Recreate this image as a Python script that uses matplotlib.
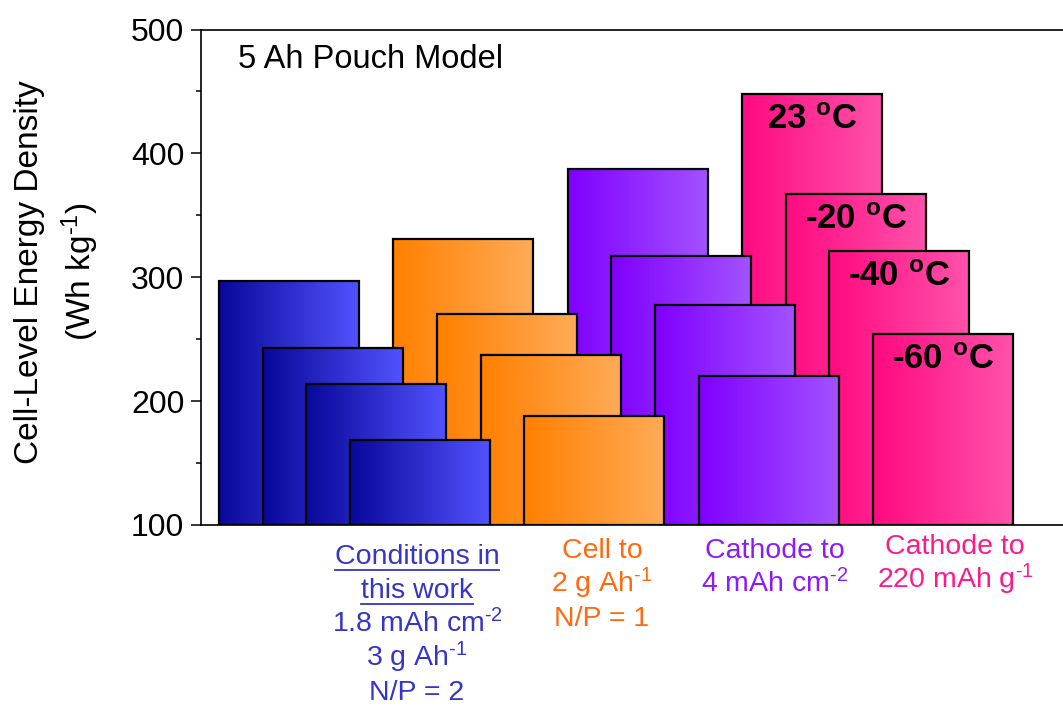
import matplotlib
matplotlib.use('Agg')
import matplotlib.pyplot as plt
import matplotlib.transforms as mtransforms
from matplotlib.colors import to_rgb
from matplotlib.lines import Line2D
from matplotlib.ticker import MultipleLocator
import numpy as np

plt.rcParams['font.family'] = ['Liberation Sans', 'DejaVu Sans']
plt.rcParams['mathtext.fontset'] = 'custom'
plt.rcParams['mathtext.rm'] = 'Liberation Sans'
plt.rcParams['mathtext.it'] = 'Liberation Sans:italic'
plt.rcParams['mathtext.bf'] = 'Liberation Sans:bold'

HY = '\u2010'  # short hyphen for exponents

# cell-level energy density (Wh/kg) at 23, -20, -40, -60 C for each scenario
temps = ['23', '-20', '-40', '-60']
this_work = [297, 243, 214, 169]
cell_2gah = [331, 270, 237, 188]
cathode_4mah = [387, 317, 278, 220]
cathode_220 = [448, 367, 321, 254]

group_labels = [
    ['Conditions in', 'this work', '1.8 mAh cm$^{%s2}$' % HY, '3 g Ah$^{%s1}$' % HY, 'N/P = 2'],
    ['Cell to', '2 g Ah$^{%s1}$' % HY, 'N/P = 1'],
    ['Cathode to', '4 mAh cm$^{%s2}$' % HY],
    ['Cathode to', '220 mAh g$^{%s1}$' % HY],
]

# (left colour, right colour, text colour) for each group
palette = [
    ('#08089a', '#5252ff', '#3535c8'),
    ('#ff8000', '#ffab58', '#ff6a10'),
    ('#8000ff', '#a352ff', '#8c1aff'),
    ('#ff0a80', '#ff52aa', '#ff1a8c'),
]

series = [this_work, cell_2gah, cathode_4mah, cathode_220]

W, H = 1063, 707
fig = plt.figure(figsize=(W / 100, H / 100), dpi=100)
ax = fig.add_axes([201 / W, (H - 525) / H, 1 - 201 / W, (525 - 29.5) / H])

BASE = 100
bar_w = 3.21

all_vals = [v for s in series for v in s]
ranks = {v: r for r, v in enumerate(sorted(all_vals, reverse=True))}

t = np.linspace(0, 1, 256)[:, None]
bar_rects = []
for g, vals in enumerate(series):
    x = 4 * g + np.arange(len(vals))
    c0, c1 = np.array(to_rgb(palette[g][0])), np.array(to_rgb(palette[g][1]))
    grad = (c0 * (1 - t) + c1 * t)[None, :, :]
    bars = ax.bar(x, np.array(vals) - BASE, bottom=BASE, width=bar_w, align='edge',
                  facecolor='none', edgecolor='black', linewidth=1.6)
    for rect, v in zip(bars, vals):
        # lower bars sit in front of taller ones
        z = 2 + ranks[v] * 0.1
        x0 = rect.get_x()
        ax.imshow(grad, extent=[x0, x0 + rect.get_width(), BASE, BASE + rect.get_height()],
                  aspect='auto', interpolation='bilinear', zorder=z)
        rect.set_zorder(z + 0.05)
    bar_rects.append(bars)

# temperature tags on the last group
for rect, tmp in zip(bar_rects[3], temps):
    ax.annotate(tmp + r' $^{\mathbf{o}}$C',
                xy=(rect.get_x() + rect.get_width() / 2, rect.get_y() + rect.get_height()),
                xytext=(0, -25), textcoords='offset points', ha='center', va='baseline',
                fontsize=25, fontweight='bold', zorder=10)

ax.set_xlim(-18 / 43.6, (W - 219) / 43.6)
ax.set_ylim(100, 500)
ax.set_xticks([])
ax.yaxis.set_major_locator(MultipleLocator(100))
ax.yaxis.set_minor_locator(MultipleLocator(50))
ax.tick_params(axis='y', which='major', length=7, width=1.1, direction='out', labelsize=23, pad=5)
ax.tick_params(axis='y', which='minor', length=3.5, width=1.1, direction='out')
ax.spines['right'].set_visible(False)
for s in ['left', 'top', 'bottom']:
    ax.spines[s].set_linewidth(1.2)

fig.text(238 / W, 1 - 68 / H, '5 Ah Pouch Model', fontsize=23.5, ha='left', va='baseline')

fig.text(30 / W, 1 - 272 / H, 'Cell-Level Energy Density', rotation=90,
         fontsize=24, ha='center', va='center')
fig.text(80 / W, 1 - 272 / H, '(Wh kg$^{%s1}$)' % HY, rotation=90,
         fontsize=24, ha='center', va='center')

# scenario captions under the axis
trans = mtransforms.blended_transform_factory(ax.transData, fig.transFigure)
label_x = [(417 - 219) / 43.6, (602 - 219) / 43.6, (775 - 219) / 43.6, (955 - 219) / 43.6]
first_base = [564, 558, 558, 554]
underlined = []
for g, lines in enumerate(group_labels):
    for k, line in enumerate(lines):
        txt = ax.text(label_x[g], 1 - (first_base[g] + 34 * k) / H, line, transform=trans,
                      ha='center', va='baseline', fontsize=20.5, color=palette[g][2],
                      clip_on=False)
        if g == 0 and k < 2:
            underlined.append(txt)

fig.canvas.draw()
renderer = fig.canvas.get_renderer()
for txt in underlined:
    bb = txt.get_window_extent(renderer)
    base_y = txt.get_transform().transform(txt.get_position())[1]
    y = (base_y - 6) / H
    fig.add_artist(Line2D([bb.x0 / W, bb.x1 / W], [y, y], transform=fig.transFigure,
                          color=palette[0][2], linewidth=1.3))

fig.savefig('out.png', dpi=100)
